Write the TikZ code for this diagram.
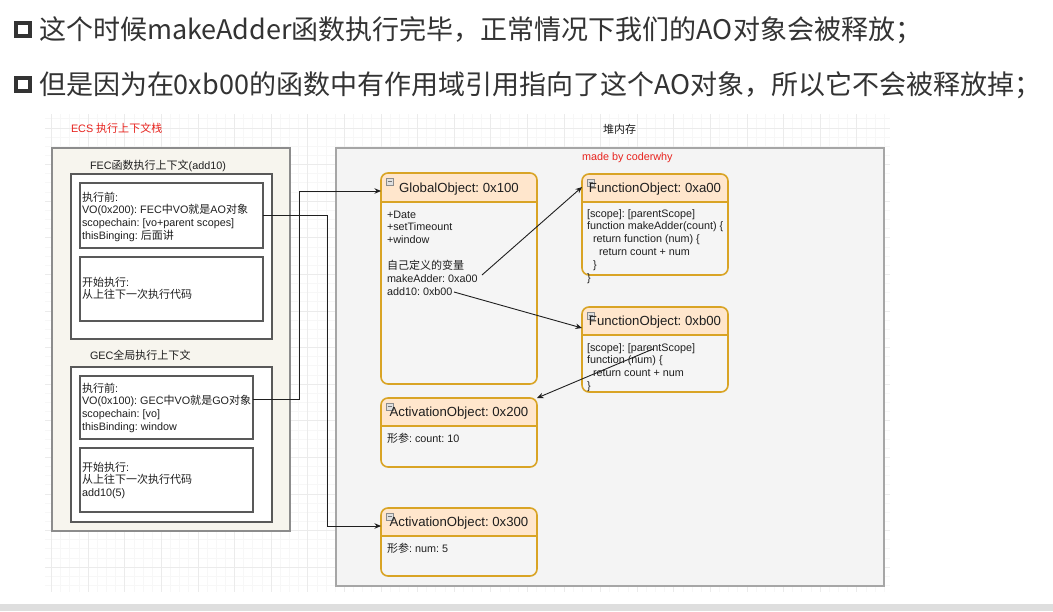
\documentclass[tikz,border=0pt]{standalone}
\usepackage{fontspec}
\setmainfont{Liberation Sans}
\newfontfamily\cjk[Scale=1.02]{Noto Sans CJK SC}
\newfontfamily\hdrfont{Noto Sans CJK SC}
\usetikzlibrary{arrows.meta,fit}
\newcommand\cj[1]{{\cjk #1}}
\newcommand\fl{\rule{0pt}{10pt}}
\frenchspacing
\definecolor{objhead}{HTML}{FFE6CC}
\definecolor{objline}{HTML}{D9A425}
\definecolor{objbody}{HTML}{F5F5F5}
\definecolor{heapfill}{HTML}{F4F4F4}
\definecolor{ecsfill}{HTML}{F7F5EE}
\definecolor{redtxt}{HTML}{E8231E}
\definecolor{hdrtxt}{HTML}{333333}
\tikzset{
  txt/.style={font=\fontsize{10.8}{12.9}\selectfont, align=left, inner sep=0, outer sep=0, anchor=north west, text=black!88},
  lbl/.style={font=\fontsize{10.8}{13}\selectfont, inner sep=0, outer sep=0, anchor=base west, text=black!88},
  ttl/.style={font=\fontsize{13.2}{15}\selectfont, inner sep=0, outer sep=0, anchor=base, text=black!88},
  hdr/.style={font=\hdrfont\fontsize{27}{30}\selectfont, inner sep=0, outer sep=0, anchor=base west, text=hdrtxt},
  wbox/.style={draw=black!65, line width=1.3, fill=white, inner sep=0, outer sep=0},
  ecsbox/.style={draw=black!45, line width=1.1, fill=ecsfill, inner sep=0, outer sep=0},
  heapbox/.style={draw=black!35, line width=1.1, fill=heapfill, inner sep=0, outer sep=0},
  objframe/.style={draw=objline, line width=1.6, rounded corners=7pt, inner sep=0, outer sep=0},
  icon/.style={draw=black!45, fill=black!12, line width=0.5},
  conn/.style={draw=black!88, line width=0.9, -{Stealth[length=6.5pt,width=5.5pt]}},
  minorg/.style={draw=black!3, line width=0.5},
  majorg/.style={draw=black!8, line width=0.6},
}
\newcommand\objbox[7]{%
  \begin{scope}
    \clip[rounded corners=7pt] (#2,#3) rectangle (#4,#5);
    \fill[objbody] (#2,#3) rectangle (#4,#5);
    \fill[objhead] (#2,#3) rectangle (#4,#6);
  \end{scope}
  \draw[objline, line width=1.6] (#2,#6) -- (#4,#6);
  \node[objframe, fit={(#2,#3) (#4,#5)}] (#1) {};
  \draw[icon] (#2+5,#3+5) rectangle ++(7,7);
  \draw[black!55, line width=0.6] (#2+6.5,#3+8.5) -- ++(4,0);
  \node[ttl] (#1-t) at ({(#2+#4)/2},{(#3+#6)/2+4.8}) {#7};
}
\begin{document}
\begin{tikzpicture}[x=1pt,y=-1pt]
\useasboundingbox (0,0) rectangle (1053,611);
\fill[white] (0,0) rectangle (1053,611);
% bottom bar
\fill[black!13] (0,604) rectangle (1053,611);

% header
\draw[hdrtxt, line width=4] (15.5,22.5) rectangle (29.5,35.5);
\draw[hdrtxt, line width=4] (15.5,77.5) rectangle (29.5,90.5);
\node[hdr] (h1) at (39,39.5) {这个时候makeAdder函数执行完毕，正常情况下我们的AO对象会被释放；};
\node[hdr] (h2) at (39,94.5) {但是因为在0xb00的函数中有作用域引用指向了这个AO对象，所以它不会被释放掉；};

% grid background
\begin{scope}
  \clip (45,114) rectangle (890,592);
  \foreach \i in {0,...,96} {
    \draw[minorg] (5.65+9.15*\i,114) -- (5.65+9.15*\i,592);
  }
  \foreach \i in {0,...,65} {
    \draw[minorg] (45,8.85+9.15*\i) -- (890,8.85+9.15*\i);
  }
  \foreach \i in {0,...,24} {
    \draw[majorg] (14.8+36.6*\i,114) -- (14.8+36.6*\i,592);
  }
  \foreach \i in {0,...,16} {
    \draw[majorg] (45,18+36.6*\i) -- (890,18+36.6*\i);
  }
\end{scope}

% ECS stack
\node[lbl, text=redtxt] (ecsl) at (71,132) {ECS \cj{执行上下文栈}};
\node[ecsbox, fit={(52,148) (290,531)}] (ecs) {};
\node[lbl] (fecl) at (90,169) {FEC\cj{函数执行上下文}(add10)};
\node[wbox, fit={(71,174) (272,339)}] (fec) {};
\node[wbox, fit={(80,183) (263,248)}] (fecb) {};
\node[wbox, fit={(80,257) (263,321)}] (fece) {};
\node[txt] (fecbt) at (82,191) {\fl\cj{执行前}:\\VO(0x200): FEC\cj{中}VO\cj{就是}AO\cj{对象}\\scopechain: [vo+parent scopes]\\thisBinging: \cj{后面讲}};
\node[txt] (fecet) at (82,276) {\fl\cj{开始执行}:\\\cj{从上往下一次执行代码}};
\node[lbl] (gecl) at (90,359) {GEC\cj{全局执行上下文}};
\node[wbox, fit={(71,367) (272,522)}] (gec) {};
\node[wbox, fit={(80,376) (253,439)}] (gecb) {};
\node[wbox, fit={(80,448) (253,512)}] (gece) {};
\node[txt] (gecbt) at (82,382) {\fl\cj{执行前}:\\VO(0x100): GEC\cj{中}VO\cj{就是}GO\cj{对象}\\scopechain: [vo]\\thisBinding: window};
\node[txt] (gecet) at (82,461) {\fl\cj{开始执行}:\\\cj{从上往下一次执行代码}\\add10(5)};

% heap
\node[lbl] (heapl) at (603,133) {\cj{堆内存}};
\node[heapbox, fit={(336,148) (884,586)}] (heap) {};
\node[lbl, text=redtxt] (made) at (582,160) {made by coderwhy};

\objbox{go}{381}{173}{537}{384}{202}{GlobalObject: 0x100}
\node[txt] (got) at (387,208) {\fl+Date\\+setTimeount\\+window\\[12.9pt]\cj{自己定义的变量}\\makeAdder: 0xa00\\add10: 0xb00};

\objbox{fo1}{582}{174}{728}{275}{202}{FunctionObject: 0xa00}
\node[txt] (fo1t) at (587,207) {\fl[scope]: [parentScope]\\function makeAdder(count) \{\\\hspace*{6pt}return function (num) \{\\\hspace*{12pt}return count + num\\\hspace*{6pt}\}\\\}};

\objbox{fo2}{582}{307}{728}{392}{335}{FunctionObject: 0xb00}
\node[txt] (fo2t) at (587,341) {\fl[scope]: [parentScope]\\function (num) \{\\\hspace*{6pt}return count + num\\\}};

\objbox{ao2}{381}{398}{537}{467}{426}{ActivationObject: 0x200}
\node[txt] (ao2t) at (387,432) {\fl\cj{形参}: count: 10};

\objbox{ao3}{381}{508}{537}{576}{536}{ActivationObject: 0x300}
\node[txt] (ao3t) at (387,542) {\fl\cj{形参}: num: 5};

% connectors
\coordinate (ma) at (482,275);
\coordinate (ad) at (454,292);
\coordinate (sc) at (653,349);
\draw[conn] ([yshift=8.5pt]gecb.east) -- ++(46,0) |- ([yshift=87.5pt]go.west);
\draw[conn] (fecb.east) -- ++(64,0) |- ([yshift=16pt]ao3.west);
\draw[conn] (ma) -- ([yshift=37.5pt]fo1.west);
\draw[conn] (ad) -- ([yshift=21.5pt]fo2.west);
\draw[conn] (sc) -- (ao2.north east);
\end{tikzpicture}
\end{document}
